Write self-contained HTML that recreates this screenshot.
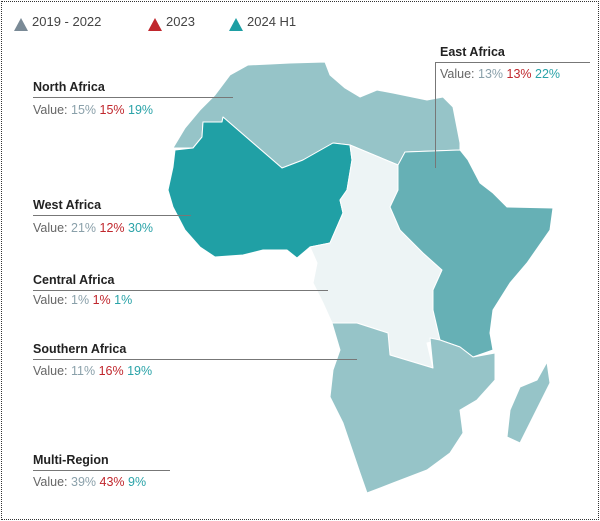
<!DOCTYPE html>
<html><head><style>
body{margin:0;width:600px;height:521px;background:#fff;font-family:"Liberation Sans",sans-serif;overflow:hidden}
.f{position:absolute;left:1px;top:1px;width:596px;height:517px;border:1px dotted #333}
.t{position:absolute;font-size:12.5px;font-weight:bold;color:#222}
.v{position:absolute;font-size:12.5px;color:#666}
.g{color:#8aa0aa}.r{color:#c0272d}.c{color:#2aa3a8}
.l{position:absolute;height:1px;background:#777}
.lg{position:absolute;top:14px;font-size:13px;color:#444}
</style></head><body>
<div class="f"></div>
<svg style="position:absolute;left:0;top:0" width="600" height="521">
<g stroke="#fff" stroke-width="1" stroke-linejoin="round">
<polygon fill="#96c4c8" points="173,148 185,128 200,110 215,95 230,75 248,65 270,64 290,63 325,62 330,75 345,88 360,97 377,90 393,93 427,100 443,97 453,107 460,143 460,150 405,152 398,165 350,145 333,143 303,160 282,168 223,117 222,122 203,122 202,137 193,148"/>
<polygon fill="#20a0a5" points="175,150 193,148 202,137 203,122 222,122 223,117 282,168 303,160 333,143 350,145 352,160 347,190 340,200 343,213 330,243 310,247 297,258 287,250 263,250 243,255 215,257 200,247 185,230 173,207 168,190 173,167"/>
<polygon fill="#edf4f5" points="350,145 398,165 398,190 390,207 400,230 423,253 442,270 433,290 433,310 440,340 427,343 433,368 390,355 388,333 357,323 332,323 323,303 313,283 317,263 310,247 330,243 343,213 340,200 347,190 352,160"/>
<polygon fill="#66b0b5" points="398,165 405,152 460,150 468,160 480,183 493,193 507,207 553,208 550,230 527,263 510,283 493,310 490,333 493,350 473,357 460,347 440,340 433,310 433,290 442,270 423,253 400,230 390,207 398,190"/>
<polygon fill="#96c4c8" points="332,323 357,323 388,333 390,355 433,368 430,338 440,340 460,347 473,357 495,353 495,380 477,400 460,410 463,433 450,453 427,470 393,483 367,493 360,473 343,423 330,397 333,370 340,350"/>
<polygon fill="#96c4c8" points="547,362 550,383 530,423 520,443 507,437 510,410 520,387 537,380"/>
</g>
<polygon fill="#7a8a96" points="14,31 21,18 28,31"/>
<polygon fill="#c0272d" points="148,31 155,18 162,31"/>
<polygon fill="#1e9ea3" points="229,31 236,18 243,31"/>
</svg>
<div class="lg" style="left:32px">2019 - 2022</div>
<div class="lg" style="left:166px">2023</div>
<div class="lg" style="left:247px">2024 H1</div>

<div class="t" style="left:33px;top:80px">North Africa</div>
<div class="l" style="left:33px;top:97px;width:200px"></div>
<div class="v" style="left:33px;top:103px">Value: <span class="g">15%</span> <span class="r">15%</span> <span class="c">19%</span></div>

<div class="t" style="left:33px;top:198px">West Africa</div>
<div class="l" style="left:33px;top:215px;width:158px"></div>
<div class="v" style="left:33px;top:221px">Value: <span class="g">21%</span> <span class="r">12%</span> <span class="c">30%</span></div>

<div class="t" style="left:33px;top:273px">Central Africa</div>
<div class="l" style="left:33px;top:290px;width:295px"></div>
<div class="v" style="left:33px;top:293px">Value: <span class="g">1%</span> <span class="r">1%</span> <span class="c">1%</span></div>

<div class="t" style="left:33px;top:342px">Southern Africa</div>
<div class="l" style="left:33px;top:359px;width:324px"></div>
<div class="v" style="left:33px;top:364px">Value: <span class="g">11%</span> <span class="r">16%</span> <span class="c">19%</span></div>

<div class="t" style="left:33px;top:453px">Multi-Region</div>
<div class="l" style="left:33px;top:470px;width:137px"></div>
<div class="v" style="left:33px;top:475px">Value: <span class="g">39%</span> <span class="r">43%</span> <span class="c">9%</span></div>

<div class="t" style="left:440px;top:45px">East Africa</div>
<div class="l" style="left:435px;top:62px;width:155px"></div>
<div class="l" style="left:435px;top:62px;width:1px;height:106px"></div>
<div class="v" style="left:440px;top:67px">Value: <span class="g">13%</span> <span class="r">13%</span> <span class="c">22%</span></div>
</body></html>
